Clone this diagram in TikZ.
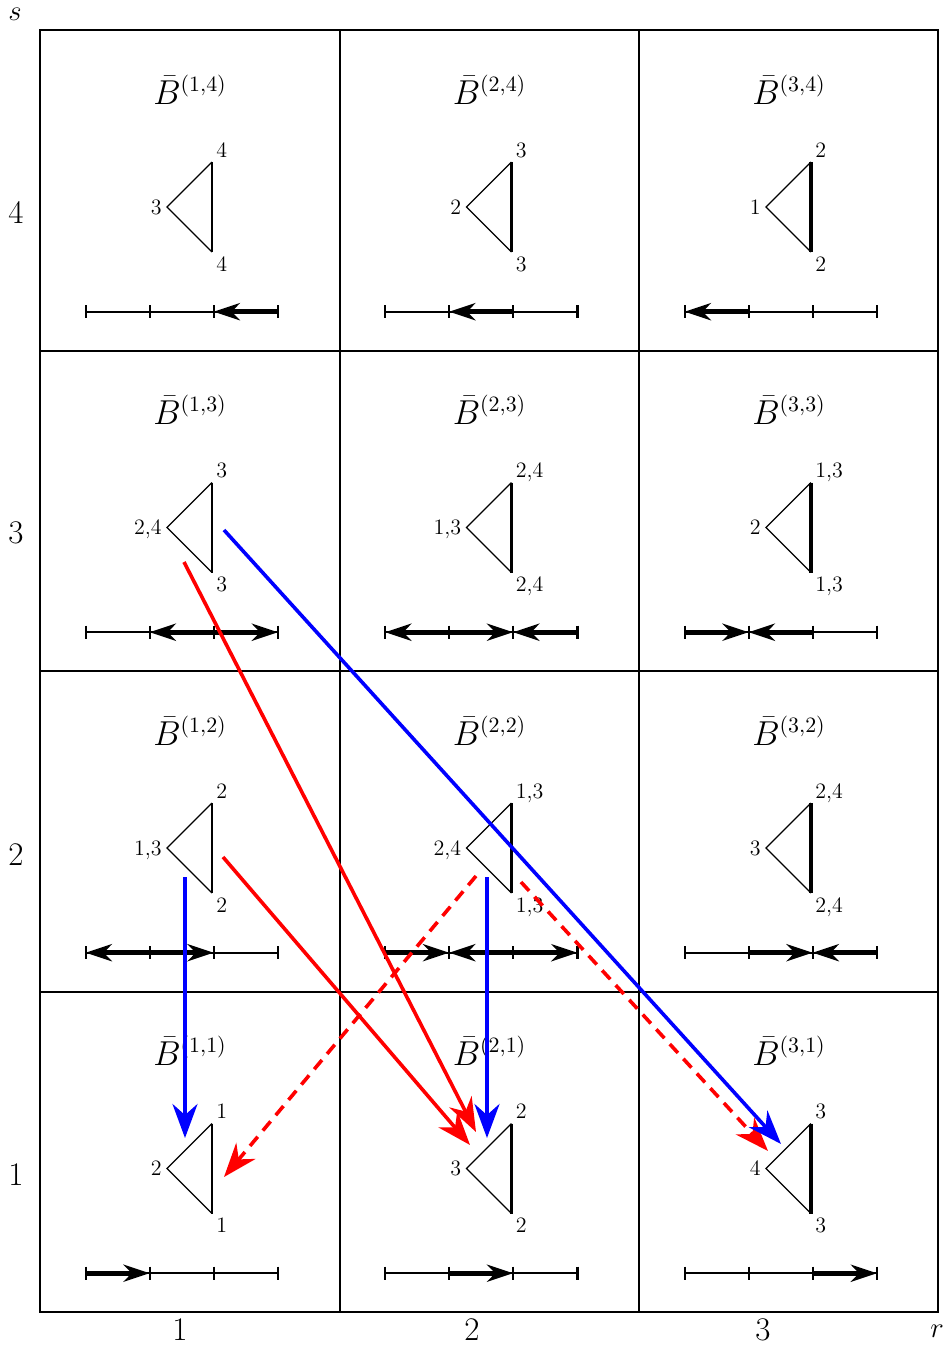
\documentclass[tikz,border=0pt]{standalone}
\usetikzlibrary{arrows.meta}
\tikzset{
  gridin/.style={line width=1pt},
  gridout/.style={line width=1.4pt},
  triside/.style={line width=0.55pt},
  triback/.style={line width=1.1pt},
  tribackb/.style={line width=1.6pt},
  lbl/.style={font=\fontsize{11}{13}\selectfont, inner sep=0pt},
  axv/.style={font=\fontsize{14}{16}\selectfont, inner sep=0pt},
  ttl/.style={font=\fontsize{16}{19}\selectfont, inner sep=0pt, anchor=base},
  axl/.style={font=\fontsize{16.5}{20}\selectfont, inner sep=0pt},
  nline/.style={line width=1pt},
  ntick/.style={line width=1.2pt},
  nseg/.style={line width=2.6pt, -{Stealth[length=13pt,width=8.5pt,inset=4pt]}},
  mov/.style={line width=1.8pt, -{Stealth[length=17pt,width=12.5pt,inset=5.5pt]}},
  movblue/.style={mov, blue},
  movred/.style={mov, red},
  movreddash/.style={mov, red, dash pattern=on 6pt off 4pt},
}
\newcommand{\mkcell}[6]{%
  \pgfmathsetmacro{\myL}{40+(#1-1)*299.5}%
  \pgfmathsetmacro{\myT}{30+(4-#2)*320.5}%
  \node[ttl] (t#1#2) at (\myL+150,\myT+74) {$\bar{B}^{(#1,#2)}$};
  \coordinate (a#1#2) at (\myL+127,\myT+177);
  \coordinate (u#1#2) at (\myL+172,\myT+132);
  \coordinate (d#1#2) at (\myL+172,\myT+222);
  \draw[triside] (u#1#2) -- (a#1#2) -- (d#1#2);
  \draw[#6] (u#1#2) -- (d#1#2);
  \node[lbl,anchor=base east] (la#1#2) at ([shift={(-5,7)}]a#1#2) {#3};
  \node[lbl,anchor=base west] (lu#1#2) at ([shift={(4,-5)}]u#1#2) {#4};
  \node[lbl,anchor=base west] (ld#1#2) at ([shift={(4,19)}]d#1#2) {#5};
  \coordinate (n#1#2a) at (\myL+45.7,\myT+281.7);
  \coordinate (n#1#2b) at (\myL+109.7,\myT+281.7);
  \coordinate (n#1#2c) at (\myL+173.7,\myT+281.7);
  \coordinate (n#1#2d) at (\myL+238,\myT+281.7);
  \draw[nline] (n#1#2a) -- (n#1#2d);
  \foreach \p in {a,b,c,d}{
    \draw[ntick] ([shift={(0,-6.5)}]n#1#2\p) -- ([shift={(0,6.5)}]n#1#2\p);
  }
}
\begin{document}
\begin{tikzpicture}[x=0.5pt,y=-0.5pt]
\useasboundingbox (0,0) rectangle (946,1345);
% grid
\draw[gridin] (340,30) -- (340,1312);
\draw[gridin] (639,30) -- (639,1312);
\draw[gridin] (40,350.5) -- (938,350.5);
\draw[gridin] (40,671) -- (938,671);
\draw[gridin] (40,991.5) -- (938,991.5);
\draw[gridout] (40,30) rectangle (938,1312);
% axis labels
\node[axv] (sl) at (15,14) {$s$};
\node[axv] (rl) at (937,1331) {$r$};
\node[axl] (s4) at (16,212) {4};
\node[axl] (s3) at (16,533) {3};
\node[axl] (s2) at (16,855) {2};
\node[axl] (s1) at (16,1175) {1};
\node[axl] (r1) at (180,1330) {1};
\node[axl] (r2) at (472,1330) {2};
\node[axl] (r3) at (763,1330) {3};
% cells
\mkcell{1}{4}{3}{4}{4}{triback}
\mkcell{2}{4}{2}{3}{3}{triback}
\mkcell{3}{4}{1}{2}{2}{tribackb}
\mkcell{1}{3}{2,4}{3}{3}{triback}
\mkcell{2}{3}{1,3}{2,4}{2,4}{triback}
\mkcell{3}{3}{2}{1,3}{1,3}{tribackb}
\mkcell{1}{2}{1,3}{2}{2}{triback}
\mkcell{2}{2}{2,4}{1,3}{1,3}{triback}
\mkcell{3}{2}{3}{2,4}{2,4}{tribackb}
\mkcell{1}{1}{2}{1}{1}{triback}
\mkcell{2}{1}{3}{2}{2}{triback}
\mkcell{3}{1}{4}{3}{3}{tribackb}
% thick number-line segments
\draw[nseg] (n14d) -- (n14c);
\draw[nseg] (n24c) -- (n24b);
\draw[nseg] (n34b) -- (n34a);
\draw[nseg] (n13c) -- (n13b);
\draw[nseg] (n13c) -- (n13d);
\draw[nseg] (n23b) -- (n23a);
\draw[nseg] (n23b) -- (n23c);
\draw[nseg] (n23d) -- (n23c);
\draw[nseg] (n33a) -- (n33b);
\draw[nseg] (n33c) -- (n33b);
\draw[nseg] (n12b) -- (n12a);
\draw[nseg] (n12b) -- (n12c);
\draw[nseg] (n22a) -- (n22b);
\draw[nseg] (n22c) -- (n22b);
\draw[nseg] (n22c) -- (n22d);
\draw[nseg] (n32b) -- (n32c);
\draw[nseg] (n32d) -- (n32c);
\draw[nseg] (n11a) -- (n11b);
\draw[nseg] (n21b) -- (n21c);
\draw[nseg] (n31c) -- (n31d);
% move arrows
\coordinate (b1s) at (224,530);
\coordinate (b1e) at (781,1144);
\coordinate (b2s) at (185,877);
\coordinate (b2e) at (185,1138);
\coordinate (b3s) at (487,877);
\coordinate (b3e) at (487,1138);
\coordinate (r1s) at (184,562);
\coordinate (r1e) at (476,1132);
\coordinate (r2s) at (223,857);
\coordinate (r2e) at (470,1145);
\coordinate (d1s) at (476,876);
\coordinate (d1e) at (224,1177);
\coordinate (d2s) at (521,882);
\coordinate (d2e) at (768,1151);
\draw[movred] (r1s) -- (r1e);
\draw[movred] (r2s) -- (r2e);
\draw[movreddash] (d1s) -- (d1e);
\draw[movreddash] (d2s) -- (d2e);
\draw[movblue] (b1s) -- (b1e);
\draw[movblue] (b2s) -- (b2e);
\draw[movblue] (b3s) -- (b3e);
\end{tikzpicture}
\end{document}
